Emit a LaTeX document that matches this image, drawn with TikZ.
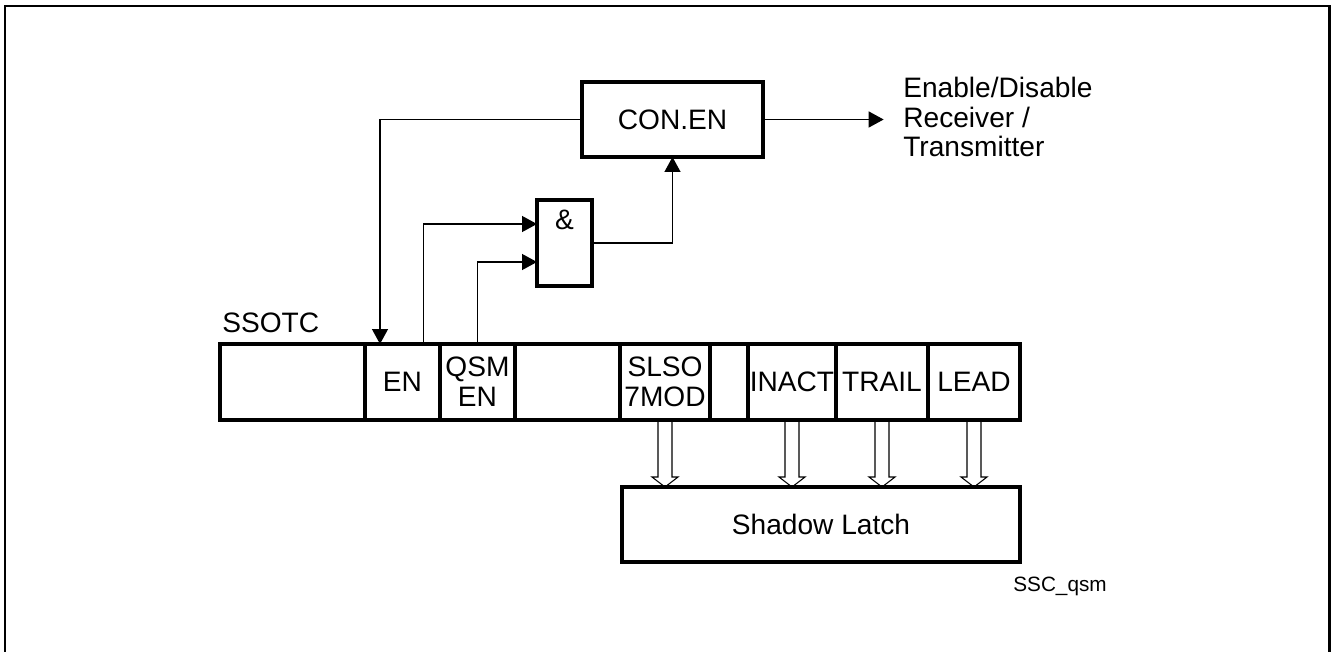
\documentclass[tikz,border=0pt]{standalone}
\usepackage{fontspec}
\setmainfont{Liberation Sans}
\usetikzlibrary{arrows.meta, positioning, calc}
\tikzset{
  box/.style={draw, line width=2.2pt, inner sep=0pt, outer sep=0pt, font=\fontsize{16}{17}\selectfont},
  cel/.style={box, minimum height=1.52cm, align=center},
  sig/.style={-{Triangle[width=9pt, length=8.5pt]}, line width=1pt},
  hol/.style={line width=0.6pt},
  txt/.style={inner sep=0pt, font=\fontsize{16}{17}\selectfont, align=left}
}

\begin{document}
\begin{tikzpicture}[x=0.02cm, y=-0.02cm]
	\useasboundingbox (0,0) rectangle (1333,652);
	% frame
	\draw[line width=1.7pt] (5,670) -- (5,6) -- (1329,6) -- (1329,670);
	% register SSOTC
	\foreach \a/\b/\n/\t in {220/365/c0/{}, 365/440/en/EN, 440/515/qsm/{QSM\\EN}, 515/620/c3/{},
		620/710/slso/{SLSO\\7MOD}, 710/748/c5/{}, 748/836/inact/INACT, 836/928/trail/TRAIL, 928/1020/lead/LEAD} {
		\node[cel, minimum width={(\b-\a)*0.02cm}] (\n) at ({(\a+\b)/2}, 382) {\t};
	}
	\node[txt, anchor=west] (ssotc) at (222,323) {SSOTC};
	% control and gate
	\node[box, minimum width=3.62cm, minimum height=1.5cm] (con) at (672.5,119.5) {CON.EN};
	\node[box, minimum width=1.1cm, minimum height=1.72cm] (and) at (564.5,243) {};
	\node[txt, below=0.2cm of and.north] (amp) {\&};
	\node[txt, anchor=west] (ena) at (903,117) {Enable/Disable\\Receiver /\\Transmitter};
	% signals
	\draw[sig] (con.west) -| ($(en.north west)+(15,0)$);
	\draw[sig] ($(en.north)+(21,0)$) |- ($(and.west)+(0,-19)$);
	\draw[sig] (qsm.north) |- ($(and.west)+(0,19)$);
	\draw[sig] (and.east) -| (con.south);
	\draw[sig, shorten >=11pt] (con.east) -- (con.east -| ena.west);
	% shadow latch
	\node[box, minimum width=7.96cm, minimum height=1.5cm] (latch) at (821,524.5) {Shadow Latch};
	\foreach \c in {slso, inact, trail, lead} {
		\coordinate (tip) at (\c.south |- latch.north);
		\draw[hol] ($(\c.south)+(-7,0)$) -- ($(tip)+(-7,-10)$) -- ++(-6,0) -- (tip)
			-- ++(13,-10) -- ++(-6,0) -- ($(\c.south)+(7,0)$);
	}
	\node[inner sep=0pt, font=\fontsize{11.8}{13}\selectfont, anchor=west] (fig) at (1013,586) {SSC\_qsm};
\end{tikzpicture}
\end{document}
